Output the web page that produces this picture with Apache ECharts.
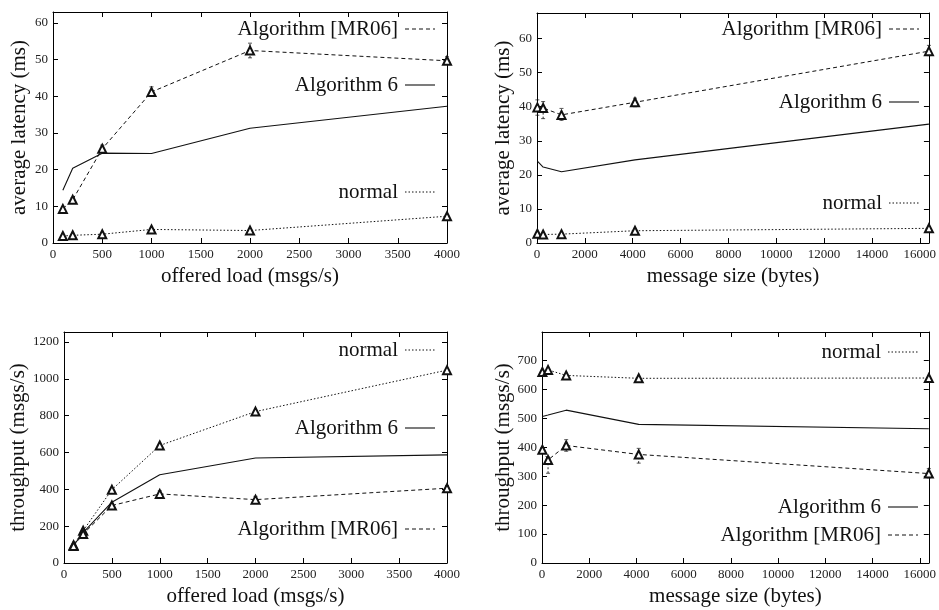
<!DOCTYPE html>
<html><head><meta charset="utf-8">
<script src="https://cdn.jsdelivr.net/npm/echarts@6/dist/echarts.min.js"></script>
<style>html,body{margin:0;padding:0;background:#fff}#c{width:939px;height:610px}</style>
</head><body><div id="c"></div>
<script>
// ---- data ----
const loadX = [100, 200, 500, 1000, 2000, 4000];
const sizeX = [16, 256, 1024, 4096, 16384];

const latLoadMR06   = [9.3, 11.8, 25.7, 41.2, 52.5, 49.7];
const latLoadAlg6   = [14.4, 20.4, 24.5, 24.4, 31.3, 37.3];
const latLoadNormal = [1.9, 2.1, 2.4, 3.7, 3.4, 7.3];
const latLoadMR06Lo = [8.9, 11.2, 24.8, 40.0, 50.5, 48.8];
const latLoadMR06Hi = [9.8, 12.4, 26.7, 42.6, 54.5, 50.8];

const latSizeMR06   = [39.8, 39.6, 37.6, 41.3, 56.3];
const latSizeAlg6   = [24.0, 22.3, 20.9, 24.4, 34.9];
const latSizeNormal = [2.7, 2.5, 2.6, 3.6, 4.3];
const latSizeMR06Lo = [37.5, 36.5, 36.0, 40.0, 55.0];
const latSizeMR06Hi = [42.0, 41.5, 39.5, 42.5, 58.0];

const thrLoadNormal = [96, 175, 398, 638, 822, 1047];
const thrLoadAlg6   = [95, 165, 330, 479, 570, 587];
const thrLoadMR06   = [92, 157, 312, 375, 344, 406];
const thrLoadMR06Lo = [88, 148, 300, 358, 328, 395];
const thrLoadMR06Hi = [97, 166, 322, 392, 362, 420];

const thrSizeNormal = [660, 667, 648, 638, 639];
const thrSizeAlg6   = [506, 511, 528, 479, 464];
const thrSizeMR06   = [391, 356, 406, 375, 309];
const thrSizeMR06Lo = [384, 310, 386, 345, 294];
const thrSizeMR06Hi = [398, 366, 426, 396, 326];

const xTitles = ['offered load (msgs/s)', 'message size (bytes)', 'offered load (msgs/s)', 'message size (bytes)'];
const yTitles = ['average latency (ms)', 'average latency (ms)', 'throughput (msgs/s)', 'throughput (msgs/s)'];
const legendNames = { mr: 'Algorithm [MR06]', a6: 'Algorithm 6', nm: 'normal' };

// ---- layout / style ----
const FONT = '"Liberation Serif", "DejaVu Serif", serif';
const grids = [
  { left: 53, top: 12, width: 394, height: 231 },
  { left: 537, top: 13, width: 394, height: 230 },
  { left: 64, top: 332, width: 383, height: 231 },
  { left: 542, top: 332, width: 388, height: 231 }
];
const axes = [
  { xmin: 0, xmax: 4000, xint: 500, ymin: 0, ymax: 63, yint: 10, yGap: 23 },
  { xmin: 0, xmax: 16384, xint: 2000, ymin: 0, ymax: 67.5, yint: 10, yGap: 23 },
  { xmin: 0, xmax: 4000, xint: 500, ymin: 0, ymax: 1254, yint: 200, yGap: 35 },
  { xmin: 0, xmax: 16384, xint: 2000, ymin: 0, ymax: 798, yint: 100, yGap: 28 }
];
const lineCol = '#111';
const styles = {
  mr: { type: [4, 3], width: 1 },
  a6: { type: 'solid', width: 1.1 },
  nm: { type: [1.5, 2], width: 1 }
};

const pairs = (xs, ys) => xs.map((x, i) => [x, ys[i]]);
const triples = (xs, lo, hi) => xs.map((x, i) => [x, lo[i], hi[i]]);

const xAxis = [], yAxis = [], series = [];
axes.forEach((a, g) => {
  const fmtX = v => (v % a.xint === 0 ? String(v) : '');
  const fmtY = v => (v % a.yint === 0 ? String(v) : '');
  const common = {
    gridIndex: g, type: 'value',
    axisLine: { show: true, onZero: false, lineStyle: { color: '#000', width: 1 } },
    axisTick: { show: true, inside: true, length: 5, lineStyle: { color: '#000' } },
    splitLine: { show: false }
  };
  xAxis.push(Object.assign({}, common, {
    position: 'bottom', min: a.xmin, max: a.xmax, interval: a.xint,
    name: xTitles[g], nameLocation: 'middle', nameGap: 23,
    nameTextStyle: { fontFamily: FONT, fontSize: 21, color: '#111', verticalAlign: 'top' },
    axisLabel: { fontFamily: FONT, fontSize: 13, color: '#222', margin: 5, formatter: fmtX, showMaxLabel: a.xmax % a.xint === 0 }
  }));
  xAxis.push(Object.assign({}, common, {
    position: 'top', min: a.xmin, max: a.xmax, interval: a.xint,
    axisLabel: { show: false }
  }));
  yAxis.push(Object.assign({}, common, {
    position: 'left', min: a.ymin, max: a.ymax, interval: a.yint,
    name: yTitles[g], nameLocation: 'middle', nameGap: a.yGap,
    nameTextStyle: { fontFamily: FONT, fontSize: 21, color: '#111' },
    axisLabel: { fontFamily: FONT, fontSize: 13, color: '#222', margin: 5, formatter: fmtY, showMaxLabel: a.ymax % a.yint === 0 }
  }));
  yAxis.push(Object.assign({}, common, {
    position: 'right', min: a.ymin, max: a.ymax, interval: a.yint,
    axisLabel: { show: false }
  }));
});

function lineSeries(g, key, xs, ys, withSym) {
  return {
    type: 'line', name: legendNames[key], xAxisIndex: 2 * g, yAxisIndex: 2 * g,
    data: pairs(xs, ys), silent: true, animation: false,
    symbol: withSym ? 'emptyTriangle' : 'none', symbolSize: 8,
    itemStyle: { color: lineCol, borderColor: lineCol, borderWidth: 0.9 },
    lineStyle: { color: lineCol, width: styles[key].width, type: styles[key].type },
    z: key === 'a6' ? 2 : 3
  };
}
function errSeries(g, xs, lo, hi) {
  return {
    type: 'custom', xAxisIndex: 2 * g, yAxisIndex: 2 * g, silent: true, animation: false,
    data: triples(xs, lo, hi),
    renderItem: (params, api) => {
      const p1 = api.coord([api.value(0), api.value(1)]);
      const p2 = api.coord([api.value(0), api.value(2)]);
      return {
        type: 'group', children: [
          { type: 'line', shape: { x1: p1[0], y1: p1[1], x2: p2[0], y2: p2[1] }, style: { stroke: lineCol, lineWidth: 0.9, lineDash: [2, 2] } },
          { type: 'line', shape: { x1: p1[0] - 2, y1: p1[1], x2: p1[0] + 2, y2: p1[1] }, style: { stroke: lineCol, lineWidth: 0.7 } },
          { type: 'line', shape: { x1: p2[0] - 2, y1: p2[1], x2: p2[0] + 2, y2: p2[1] }, style: { stroke: lineCol, lineWidth: 0.7 } }
        ]
      };
    }
  };
}

series.push(lineSeries(0, 'mr', loadX, latLoadMR06, true));
series.push(errSeries(0, loadX, latLoadMR06Lo, latLoadMR06Hi));
series.push(lineSeries(0, 'a6', loadX, latLoadAlg6, false));
series.push(lineSeries(0, 'nm', loadX, latLoadNormal, true));

series.push(lineSeries(1, 'mr', sizeX, latSizeMR06, true));
series.push(errSeries(1, sizeX, latSizeMR06Lo, latSizeMR06Hi));
series.push(lineSeries(1, 'a6', sizeX, latSizeAlg6, false));
series.push(lineSeries(1, 'nm', sizeX, latSizeNormal, true));

series.push(lineSeries(2, 'nm', loadX, thrLoadNormal, true));
series.push(lineSeries(2, 'a6', loadX, thrLoadAlg6, false));
series.push(lineSeries(2, 'mr', loadX, thrLoadMR06, true));
series.push(errSeries(2, loadX, thrLoadMR06Lo, thrLoadMR06Hi));

series.push(lineSeries(3, 'nm', sizeX, thrSizeNormal, true));
series.push(lineSeries(3, 'a6', sizeX, thrSizeAlg6, false));
series.push(lineSeries(3, 'mr', sizeX, thrSizeMR06, true));
series.push(errSeries(3, sizeX, thrSizeMR06Lo, thrSizeMR06Hi));

// ---- in-plot keys (text + line sample) ----
const keys = [
  { g: 0, key: 'mr', y: 29 }, { g: 0, key: 'a6', y: 85 }, { g: 0, key: 'nm', y: 192 },
  { g: 1, key: 'mr', y: 29 }, { g: 1, key: 'a6', y: 102 }, { g: 1, key: 'nm', y: 203 },
  { g: 2, key: 'nm', y: 350 }, { g: 2, key: 'a6', y: 428 }, { g: 2, key: 'mr', y: 529 },
  { g: 3, key: 'nm', y: 352 }, { g: 3, key: 'a6', y: 507 }, { g: 3, key: 'mr', y: 535 }
];
const graphic = [];
keys.forEach(k => {
  const gr = grids[k.g];
  const right = gr.left + gr.width;
  const textRight = right - 49;
  graphic.push({
    type: 'text', x: textRight, y: k.y, silent: true,
    style: { text: legendNames[k.key], font: '21px ' + FONT, fill: '#111', align: 'right', verticalAlign: 'middle' }
  });
  const st = styles[k.key];
  graphic.push({
    type: 'line', silent: true,
    shape: { x1: textRight + 7, y1: k.y, x2: right - 12, y2: k.y },
    style: { stroke: lineCol, lineWidth: st.width, lineDash: st.type === 'solid' ? null : st.type }
  });
});

const chart = echarts.init(document.getElementById('c'), null, { renderer: 'canvas' });
chart.setOption({
  backgroundColor: '#fff',
  animation: false,
  grid: grids.map(g => Object.assign({ containLabel: false }, g)),
  xAxis, yAxis, series, graphic
});
</script>
</body></html>
